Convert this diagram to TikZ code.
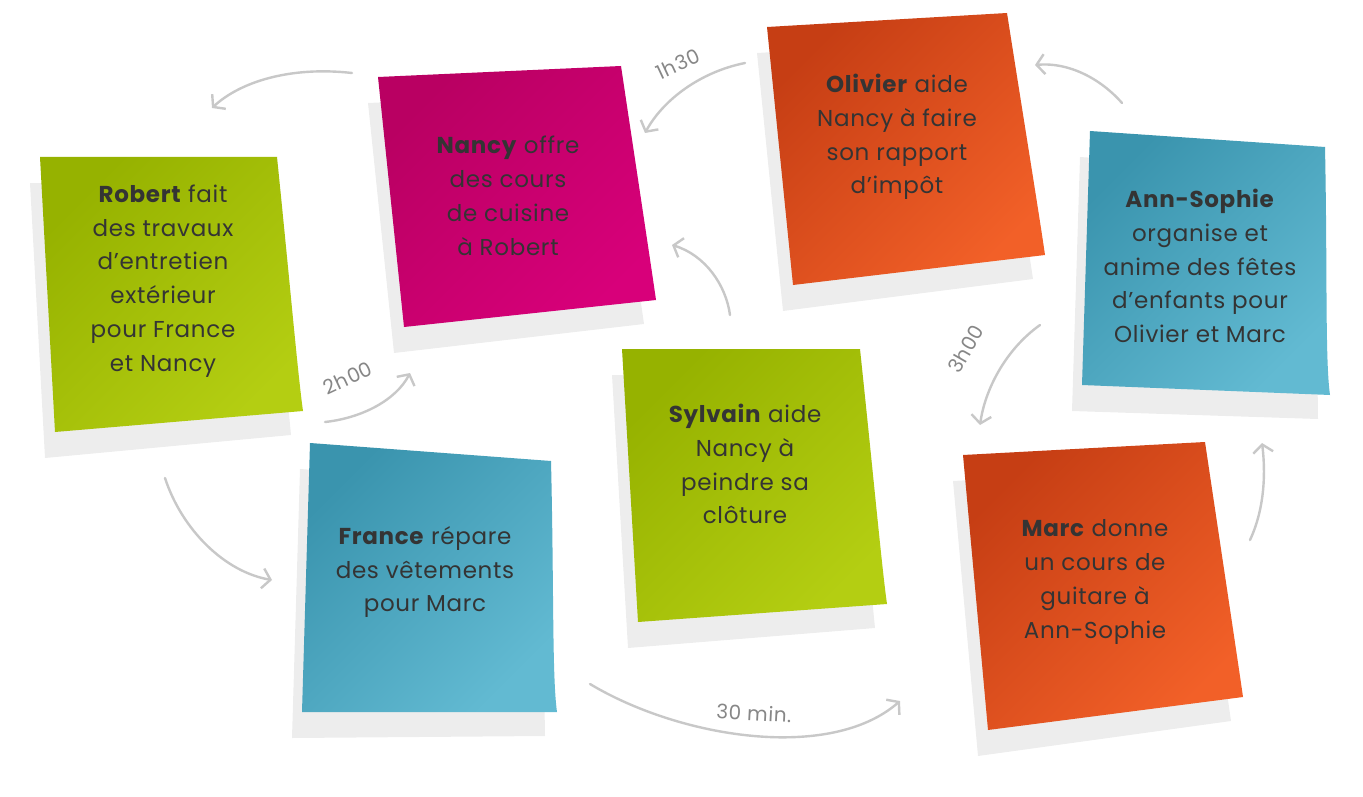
\documentclass[tikz,border=0pt]{standalone}
\usepackage{fontspec}
\setmainfont{Poppins}[LetterSpace=3]
\usetikzlibrary{calc,arrows.meta}
\definecolor{greenD}{RGB}{150,178,0}
\definecolor{greenL}{RGB}{180,206,18}
\definecolor{magD}{RGB}{185,0,98}
\definecolor{magL}{RGB}{216,0,122}
\definecolor{oraD}{RGB}{198,62,20}
\definecolor{oraL}{RGB}{242,96,40}
\definecolor{tealD}{RGB}{58,148,174}
\definecolor{tealL}{RGB}{98,186,210}
\definecolor{notetxt}{RGB}{52,52,52}
\definecolor{arrowgray}{RGB}{200,200,200}
\definecolor{lblgray}{RGB}{135,135,135}
\tikzset{
  notetext/.style={align=center, text=notetxt, font=\fontsize{23}{33.8}\selectfont},
  sketch/.style={draw=arrowgray, line width=2.4pt, line cap=round,
    -{Straight Barb[length=8pt,width=20pt,line width=2.4pt]}},
  lbl/.style={text=lblgray, font=\fontsize{20}{22}\selectfont, inner sep=1pt},
  shadowfill/.style={fill=black, opacity=0.07},
}
\newcommand{\stickynote}[6]{%
  \fill[shadowfill] ([shift={(-10,26)}]#1) -- ([shift={(-10,26)}]#2) -- ([shift={(-12,24)}]#3) -- ([shift={(-10,26)}]#4) -- cycle;
  \shade[top color=#5, bottom color=#6, shading angle=45]
    (#1) -- (#2) .. controls ($(#2)!0.5!(#3)$) and ($(#3)+(-5,-35)$) .. (#3) -- (#4) -- cycle;
}
\begin{document}
\begin{tikzpicture}[x=1pt,y=-1pt]
\fill[white] (0,0) rectangle (1363,797);
\useasboundingbox (0,0) rectangle (1363,797);

% notes
\stickynote{40,157}{277,157}{303,411}{55,432}{greenD}{greenL}
\stickynote{378,77}{621,66}{656,300}{404,327}{magD}{magL}
\stickynote{767,27}{1007,13}{1045,255}{793,285}{oraD}{oraL}
\stickynote{1090,131}{1325,147}{1330,395}{1082,385}{tealD}{tealL}
\stickynote{622,349}{860,349}{887,604}{638,622}{greenD}{greenL}
\stickynote{310,443}{551,461}{557,712}{302,712}{tealD}{tealL}
\stickynote{963,455}{1205,442}{1243,697}{988,730}{oraD}{oraL}

\node[notetext] (robert) at (163,281) {\textbf{Robert} fait\\des travaux\\d’entretien\\extérieur\\pour France\\et Nancy};
\node[notetext] (nancy) at (508,196) {\textbf{Nancy} offre\\des cours\\de cuisine\\à Robert};
\node[notetext] (olivier) at (897,137) {\textbf{Olivier} aide\\Nancy à faire\\son rapport\\d’impôt};
\node[notetext] (annsophie) at (1200,266) {\textbf{Ann-Sophie}\\organise et\\anime des fêtes\\d’enfants pour\\Olivier et Marc};
\node[notetext] (sylvain) at (745,464) {\textbf{Sylvain} aide\\Nancy à\\peindre sa\\clôture};
\node[notetext] (france) at (425,572) {\textbf{France} répare\\des vêtements\\pour Marc};
\node[notetext] (marc) at (1095,582) {\textbf{Marc} donne\\un cours de\\guitare à\\Ann-Sophie};

% connector end points
\coordinate (a1s) at (352,73);   \coordinate (a1e) at (212,108);
\coordinate (a2s) at (745,63);   \coordinate (a2e) at (645,133);
\coordinate (a3s) at (1122,103); \coordinate (a3e) at (1035,65);
\coordinate (a4s) at (1040,325); \coordinate (a4e) at (980,425);
\coordinate (a5s) at (1250,540); \coordinate (a5e) at (1262,443);
\coordinate (a6s) at (590,684);  \coordinate (a6e) at (900,701);
\coordinate (a7s) at (165,478);  \coordinate (a7e) at (272,580);
\coordinate (a8s) at (325,422);  \coordinate (a8e) at (410,373);
\coordinate (a9s) at (730,315);  \coordinate (a9e) at (672,245);

\draw[sketch] (a1s) .. controls (290,66) and (240,82) .. (a1e);
\draw[sketch] (a2s) .. controls (700,72) and (663,100) .. (a2e);
\draw[sketch] (a3s) .. controls (1100,78) and (1068,62) .. (a3e);
\draw[sketch] (a4s) .. controls (1005,350) and (985,390) .. (a4e);
\draw[sketch] (a5s) .. controls (1264,510) and (1266,475) .. (a5e);
\draw[sketch] (a6s) .. controls (680,738) and (830,762) .. (a6e);
\draw[sketch] (a7s) .. controls (182,530) and (225,572) .. (a7e);
\draw[sketch] (a8s) .. controls (362,418) and (396,400) .. (a8e);
\draw[sketch] (a9s) .. controls (726,285) and (705,255) .. (a9e);

\node[lbl, rotate=25] (l2) at (678,64) {1h30};
\node[lbl, rotate=60] (l4) at (966,349) {3h00};
\node[lbl, rotate=25] (l8) at (348,378) {2h00};
\node[lbl, rotate=-3] (l6) at (754,713) {30 min.};
\end{tikzpicture}
\end{document}
